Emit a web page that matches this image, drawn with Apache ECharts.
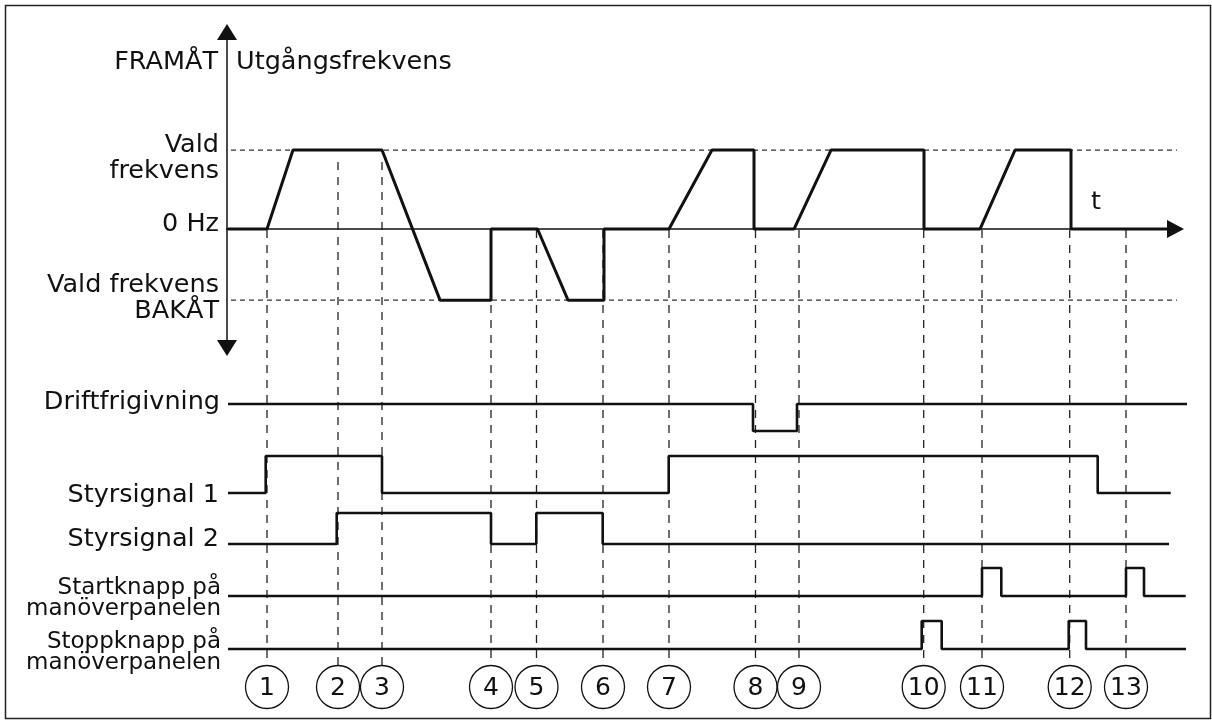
<!DOCTYPE html>
<html>
<head>
<meta charset="utf-8">
<script src="https://cdn.jsdelivr.net/npm/echarts@6/dist/echarts.min.js"></script>
<style>
  html, body { margin: 0; padding: 0; background: #fff; }
  #chart { width: 1212px; height: 720px; }
</style>
</head>
<body>
<div id="chart"></div>
<script>
// Output frequency levels (relative units)
const FWD = 50;    // selected frequency, forward
const REV = -45;   // selected frequency, reverse

// Output frequency trace: time / value pairs
const freqTimes  = [1, 40, 66, 155, 213, 264, 264, 310.5, 341, 377, 377, 442, 485, 527, 527, 567, 604, 697, 697, 753, 788, 844, 844, 945];
const freqValues = [0, 0, FWD, FWD, REV, REV, 0, 0, REV, REV, 0, 0, FWD, FWD, 0, 0, FWD, FWD, 0, 0, FWD, FWD, 0, 0];

// Digital signals: [time, level] at each change (level holds until next change)
const runEnable   = [[1, 1], [526, 0], [570, 1], [960, 1]];
const ctrlSignal1 = [[1, 0], [38.7, 1], [155, 0], [441.7, 1], [870.7, 0], [943.7, 0]];
const ctrlSignal2 = [[1, 0], [109.7, 1], [264, 0], [309.3, 1], [375.7, 0], [942, 0]];
const startButton = [[1, 0], [755, 1], [774.3, 0], [899, 1], [917, 0], [958.7, 0]];
const stopButton  = [[1, 0], [694.7, 1], [714.7, 0], [841.7, 1], [859, 0], [959, 0]];

// Numbered events on the time axis
const eventTimes  = [40, 111, 155, 264, 309.5, 376, 442, 528.5, 572, 696.7, 755, 842.7, 899];
const eventLabels = ['1', '2', '3', '4', '5', '6', '7', '8', '9', '10', '11', '12', '13'];
const eventFrom   = [0, FWD, FWD, 0, 0, 0, 0, 0, 0, 0, 0, 0, 0];

const FONT = '"DejaVu Sans", Verdana, sans-serif';
const INK = '#111';

const freqData = freqTimes.map((t, i) => [t, freqValues[i]]);
const eventData = eventTimes.map((t, i) => [t, eventFrom[i], eventLabels[i]]);

const laneGrid = (top, height) => ({ left: 227, top: top, width: 960, height: height });
const hiddenX = (gi) => ({ gridIndex: gi, type: 'value', min: 0, max: 960, show: false });
const hiddenY = (gi) => ({ gridIndex: gi, type: 'value', min: 0, max: 1, show: false });

const signalSeries = (data, gi) => ({
  type: 'line', xAxisIndex: gi, yAxisIndex: gi, data: data, step: 'end',
  symbol: 'none', clip: false, silent: true, z: 3,
  lineStyle: { color: INK, width: 2.6 }
});

const refLine = (level) => ({
  type: 'line', xAxisIndex: 0, yAxisIndex: 0, data: [[-5, level], [958, level]],
  symbol: 'none', clip: false, silent: true, z: 1,
  lineStyle: { color: '#333', width: 1.2, type: [5, 4] }
});

const txt = (text, x, y, align, size, lineHeight) => ({
  type: 'text', silent: true,
  style: {
    text: text, x: x, y: y, fill: INK,
    font: size + 'px ' + FONT,
    align: align, textAlign: align,
    verticalAlign: 'middle', textVerticalAlign: 'middle',
    lineHeight: lineHeight || size
  }
});

const option = {
  animation: false,
  backgroundColor: '#fff',
  grid: [
    { left: 227, top: 32, width: 948.5, height: 316 },  // output frequency
    laneGrid(404, 27),   // Driftfrigivning
    laneGrid(456, 37),   // Styrsignal 1
    laneGrid(513, 31),   // Styrsignal 2
    laneGrid(568, 28),   // Startknapp
    laneGrid(621, 28)    // Stoppknapp
  ],
  xAxis: [
    {
      gridIndex: 0, type: 'value', min: 0, max: 948.5,
      axisLine: { show: true, onZero: true, symbol: ['none', 'triangle'], symbolSize: [18, 17],
                  lineStyle: { color: INK, width: 1.5 } },
      axisTick: { show: false }, axisLabel: { show: false }, splitLine: { show: false }
    },
    hiddenX(1), hiddenX(2), hiddenX(3), hiddenX(4), hiddenX(5)
  ],
  yAxis: [
    {
      gridIndex: 0, type: 'value', min: -75.3, max: 124.7,
      axisLine: { show: true, onZero: false, symbol: ['triangle', 'triangle'], symbolSize: [20, 16],
                  lineStyle: { color: INK, width: 1.5 } },
      axisTick: { show: false }, axisLabel: { show: false }, splitLine: { show: false }
    },
    hiddenY(1), hiddenY(2), hiddenY(3), hiddenY(4), hiddenY(5)
  ],
  series: [
    refLine(FWD),
    refLine(REV),
    {
      // short tick marking the 0 Hz level left of the frequency axis
      type: 'line', xAxisIndex: 0, yAxisIndex: 0, data: [[-5, 0], [0, 0]],
      symbol: 'none', clip: false, silent: true, z: 1,
      lineStyle: { color: INK, width: 1.5 }
    },
    {
      type: 'custom', xAxisIndex: 0, yAxisIndex: 0, data: eventData, clip: false, silent: true, z: 2,
      renderItem: function (params, api) {
        const p = api.coord([api.value(0), api.value(1)]);
        const x = p[0];
        const y0 = p[1] + (api.value(1) > 0 ? 12 : 1);
        const cy = 687, r = 21.5;
        return {
          type: 'group',
          children: [
            { type: 'line', shape: { x1: x, y1: y0, x2: x, y2: cy - r },
              style: { stroke: '#222', lineWidth: 1.3, lineDash: [8, 7] } },
            { type: 'circle', shape: { cx: x, cy: cy, r: r },
              style: { fill: '#fff', stroke: INK, lineWidth: 1.3 } },
            { type: 'text',
              style: { text: String(api.value(2)), x: x, y: cy + 1.5, fill: INK,
                       font: '25px ' + FONT, align: 'center', textAlign: 'center',
                       verticalAlign: 'middle', textVerticalAlign: 'middle' } }
          ]
        };
      }
    },
    {
      type: 'line', xAxisIndex: 0, yAxisIndex: 0, data: freqData,
      symbol: 'none', clip: false, silent: true, z: 3,
      lineStyle: { color: INK, width: 3 }
    },
    signalSeries(runEnable, 1),
    signalSeries(ctrlSignal1, 2),
    signalSeries(ctrlSignal2, 3),
    signalSeries(startButton, 4),
    signalSeries(stopButton, 5)
  ],
  graphic: [
    { type: 'rect', silent: true, shape: { x: 5.5, y: 5.5, width: 1205, height: 713 },
      style: { fill: 'none', stroke: '#222', lineWidth: 1.5 } },
    txt('FRAMÅT', 218, 62.7, 'right', 25.5),
    txt('Utgångsfrekvens', 236, 62.7, 'left', 25.5),
    txt('Vald\nfrekvens', 219, 158.4, 'right', 25.5, 26),
    txt('0 Hz', 219, 224.4, 'right', 25.5),
    txt('Vald frekvens\nBAKÅT', 219, 298.4, 'right', 25.5, 26),
    txt('t', 1096, 202.4, 'center', 25.5),
    txt('Driftfrigivning', 220, 402.4, 'right', 25.5),
    txt('Styrsignal 1', 219, 495, 'right', 25.5),
    txt('Styrsignal 2', 219, 539, 'right', 25.5),
    txt('Startknapp på\nmanöverpanelen', 221, 598.7, 'right', 23, 21),
    txt('Stoppknapp på\nmanöverpanelen', 221, 652.5, 'right', 23, 20.5)
  ]
};

const chart = echarts.init(document.getElementById('chart'), null, { renderer: 'canvas' });
chart.setOption(option);
</script>
</body>
</html>
